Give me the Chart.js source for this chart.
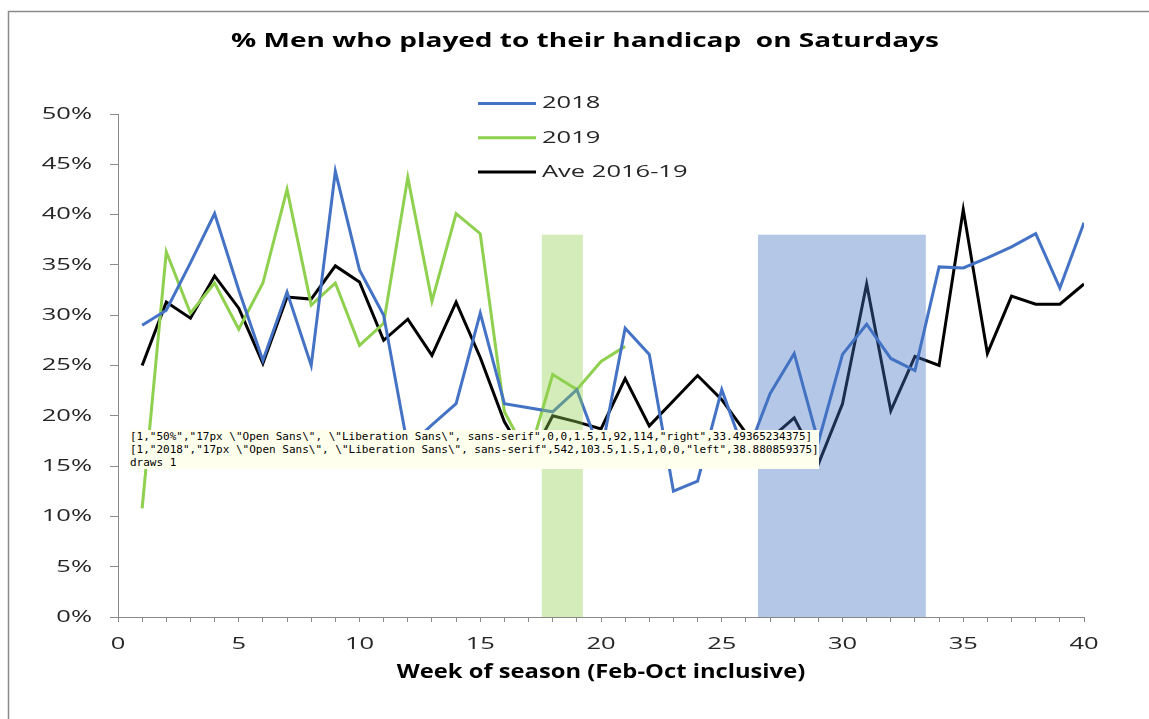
<!DOCTYPE html>
<html>
<head>
<meta charset="utf-8">
<script src="https://cdn.jsdelivr.net/npm/chart.js@4/dist/chart.umd.min.js"></script>
<style>
html,body{margin:0;padding:0;background:#fff;}
#wrap{width:1149px;height:719px;position:relative;}
#dbg{position:absolute;left:130px;top:430px;font:11px monospace;white-space:pre;background:#ffe;z-index:9;}
</style>
</head>
<body>
<div id="wrap"><canvas id="c" width="1149" height="719"></canvas><div id="dbg"></div></div>
<script>
const chartTitle = "% Men who played to their handicap  on Saturdays";
const xAxisTitle = "Week of season (Feb-Oct inclusive)";
const weeks = [1,2,3,4,5,6,7,8,9,10,11,12,13,14,15,16,17,18,19,20,21,22,23,24,25,26,27,28,29,30,31,32,33,34,35,36,37,38,39,40];
const seriesLabels = ["2018", "2019", "Ave 2016-19"];
const pct2018 = [29.0,30.5,35.2,40.1,32.5,25.5,32.3,25.0,44.3,34.5,30.0,16.9,19.1,21.2,30.2,21.2,20.8,20.4,22.6,16.2,28.7,26.1,12.5,13.5,22.6,15.9,22.2,26.2,17.4,26.1,29.1,25.7,24.5,34.8,34.7,35.7,36.8,38.1,32.7,39.2];
const pct2019 = [10.8,36.3,30.2,33.2,28.6,33.2,42.5,31.0,33.2,27.0,29.2,43.7,31.4,40.1,38.1,20.4,15.9,24.1,22.6,25.4,26.9];
const pctAve = [25.0,31.3,29.7,33.9,30.7,25.2,31.8,31.6,34.9,33.3,27.5,29.6,26.0,31.3,25.8,19.4,15.4,20.0,19.4,18.7,23.7,19.0,21.5,24.0,21.6,18.3,17.7,19.8,15.2,21.2,33.1,20.5,25.9,25.0,40.5,26.2,31.9,31.1,31.1,33.1];
const bandStart = [17.55, 26.5];
const bandEnd = [19.25, 33.45];
const bandTop = [38, 38];
const bandColors = ["rgba(146,208,80,0.4)", "rgba(68,114,196,0.4)"];
const yTicks = [0,5,10,15,20,25,30,35,40,45,50];
const FONT = "'Open Sans', 'Liberation Sans', sans-serif";
const toXY = (vals) => vals.map((v, i) => ({x: weeks[i], y: v}));
const canvas = document.getElementById('c');
const ctx2d = canvas.getContext('2d');
const rawFillText = ctx2d.fillText.bind(ctx2d);
const log = [];
let draws = 0;
function textStretch(font) {
  if (font.indexOf('bold') >= 0 && font.indexOf('20px') >= 0) return 1.40;
  if (font.indexOf('bold') >= 0 && font.indexOf('19px') >= 0) return 1.25;
  if (font.indexOf('17px') >= 0) return 1.5;
  return 1;
}
ctx2d.fillText = function(text, x, y, maxWidth) {
  const s = textStretch(this.font);
  const t = this.getTransform();
  if (String(text) === '50%' || String(text) === '2018') {
    log.push(JSON.stringify([draws, String(text), this.font, x, y, s, t.a, t.e, t.f, this.textAlign, this.measureText(String(text)).width]));
  }
  if (s === 1) {
    return maxWidth === undefined ? rawFillText(text, x, y) : rawFillText(text, x, y, maxWidth);
  }
  this.save();
  this.translate(x, y);
  this.scale(s, 1);
  rawFillText(text, 0, 0);
  this.restore();
};
const framePlugin = {
  id: 'frame',
  beforeDraw(chart) {
    draws++;
    const ctx = chart.ctx;
    ctx.save();
    ctx.fillStyle = '#fff';
    ctx.fillRect(0, 0, chart.width, chart.height);
    ctx.strokeStyle = '#8a8a8a';
    ctx.lineWidth = 1.5;
    ctx.strokeRect(8.5, 11.5, chart.width + 20, chart.height + 20);
    ctx.restore();
  },
  afterDraw(chart) {
    const ctx = chart.ctx;
    ctx.save();
    ctx.fillStyle = '#000';
    ctx.font = "bold 20px " + FONT;
    ctx.textAlign = 'center';
    ctx.textBaseline = 'middle';
    ctx.fillText(chartTitle, 585, 41);
    ctx.restore();
  }
};
const bandPlugin = {
  id: 'bands',
  afterDatasetsDraw(chart) {
    const {ctx, scales: {x, y}} = chart;
    ctx.save();
    for (let i = 0; i < bandStart.length; i++) {
      const x0 = x.getPixelForValue(bandStart[i]);
      const x1 = x.getPixelForValue(bandEnd[i]);
      const y0 = y.getPixelForValue(bandTop[i]);
      const y1 = y.getPixelForValue(0);
      ctx.fillStyle = bandColors[i];
      ctx.fillRect(x0, y0, x1 - x0, y1 - y0);
    }
    ctx.restore();
  }
};
const legendPlugin = {
  id: 'customLegend',
  afterDraw(chart) {
    const ctx = chart.ctx;
    ctx.save();
    ctx.font = "17px " + FONT;
    ctx.textBaseline = 'middle';
    ctx.textAlign = 'left';
    chart.data.datasets.forEach((ds, i) => {
      const yy = 103.5 + i * 34.2;
      ctx.strokeStyle = ds.borderColor;
      ctx.lineWidth = 3;
      ctx.beginPath();
      ctx.moveTo(478, yy);
      ctx.lineTo(536, yy);
      ctx.stroke();
      ctx.fillStyle = '#262626';
      ctx.fillText(ds.label, 542, yy);
    });
    ctx.restore();
  }
};
new Chart(canvas, {
  type: 'line',
  data: {datasets: [
    {label: seriesLabels[0], data: toXY(pct2018), borderColor: '#4472c4', backgroundColor: '#4472c4'},
    {label: seriesLabels[1], data: toXY(pct2019), borderColor: '#8fd14f', backgroundColor: '#8fd14f'},
    {label: seriesLabels[2], data: toXY(pctAve), borderColor: '#000000', backgroundColor: '#000000'}
  ]},
  options: {
    responsive: false, animation: false, devicePixelRatio: 1,
    layout: {padding: {top: 114, right: 65, left: 0, bottom: 0}},
    elements: {point: {radius: 0, hoverRadius: 0}, line: {borderWidth: 3, tension: 0, borderJoinStyle: 'miter'}},
    plugins: {legend: {display: false}, title: {display: false}, tooltip: {enabled: false}},
    scales: {
      x: {type: 'linear', min: 0, max: 40, afterFit(scale) { scale.height = 102; },
        ticks: {stepSize: 1, autoSkip: false, maxRotation: 0, padding: 12, color: '#262626', font: {family: FONT, size: 17},
          callback: (v) => (v % 5 === 0 ? String(v) : '')},
        grid: {drawOnChartArea: false, drawTicks: true, tickLength: 5, color: '#8a8a8a'},
        border: {display: true, color: '#8a8a8a', width: 1},
        title: {display: true, text: xAxisTitle, color: '#000', font: {family: FONT, size: 19, weight: 'bold'}, padding: {top: 0, bottom: 35}}},
      y: {min: 0, max: 50, afterFit(scale) { scale.width = 118; },
        afterBuildTicks(scale) { scale.ticks = yTicks.map(v => ({value: v})); },
        ticks: {padding: 18, color: '#262626', font: {family: FONT, size: 17}, callback: (v) => v + '%'},
        grid: {drawOnChartArea: false, drawTicks: true, tickLength: 8, color: '#8a8a8a'},
        border: {display: true, color: '#8a8a8a', width: 1}}
    }
  },
  plugins: [framePlugin, bandPlugin, legendPlugin]
});
setTimeout(() => { document.getElementById('dbg').textContent = log.join('\n') + '\ndraws ' + draws; }, 50);
document.getElementById('dbg').textContent = log.join('\n') + '\ndraws ' + draws;
</script>
</body>
</html>
